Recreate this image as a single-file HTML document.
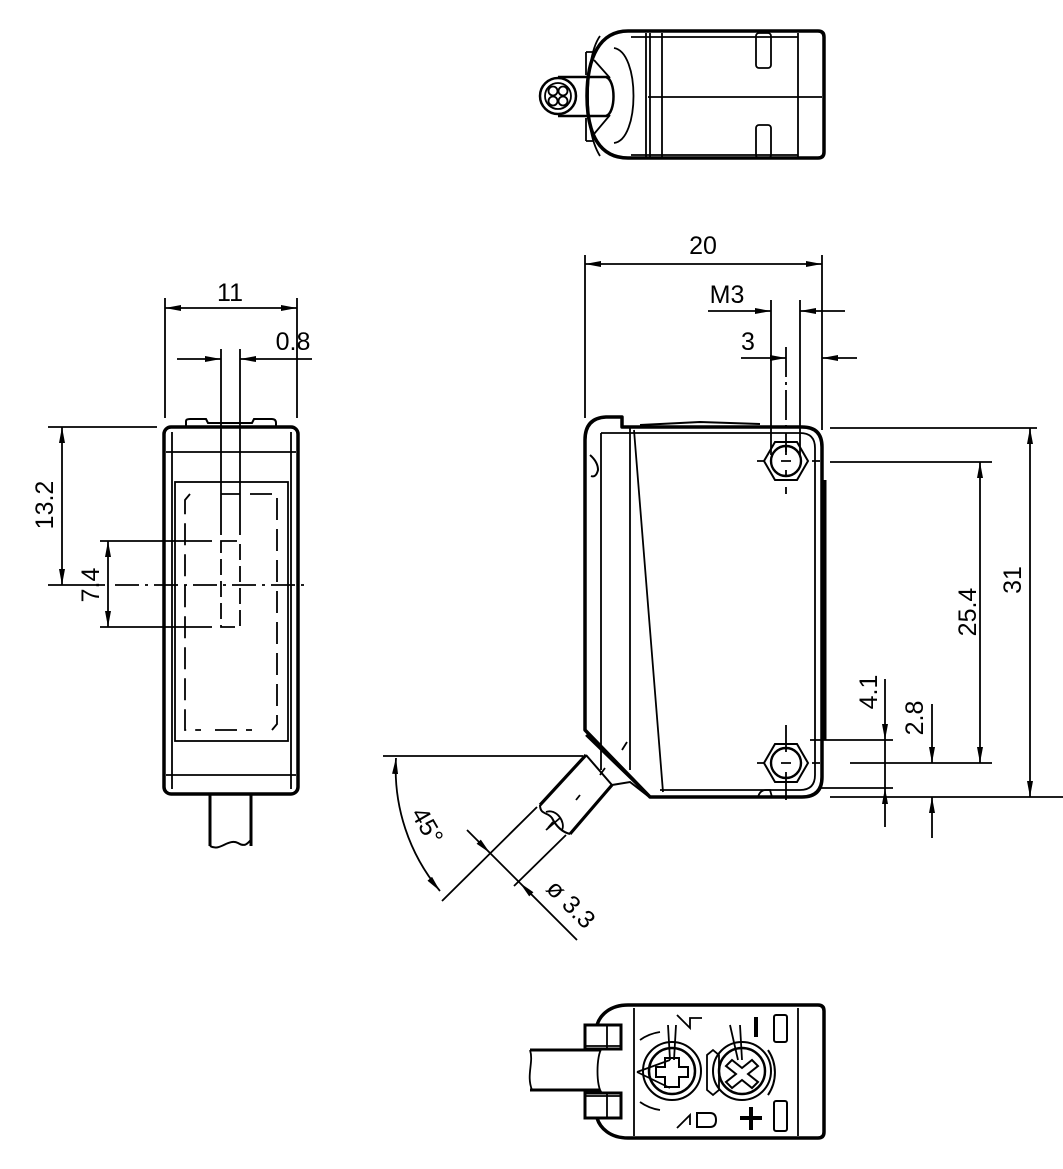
<!DOCTYPE html>
<html><head><meta charset="utf-8"><style>
html,body{margin:0;padding:0;background:#fff}
svg{display:block}
text{font-family:"Liberation Sans",Arial,sans-serif;font-size:25px;fill:#000}
</style></head><body>
<svg width="1063" height="1169" viewBox="0 0 1063 1169" xmlns="http://www.w3.org/2000/svg">
<defs>
<marker id="a" viewBox="0 0 16 6" refX="16" refY="3" markerWidth="16" markerHeight="6" markerUnits="userSpaceOnUse" orient="auto-start-reverse">
<path d="M0,0 L16,3 L0,6 Z" fill="#000"/>
</marker>
</defs>
<g fill="none" stroke="#000" stroke-width="1.8">

<!-- ===== TOP VIEW ===== -->
<path d="M628,31 L818,31 Q824,31 824,37 L824,152 Q824,158 818,158 L628,158 C600,158 587,135 587,96 C587,57 600,31 628,31 Z" stroke-width="3.5"/>
<path d="M631,37 L798,37 M631,155 L798,155 M646,33 L646,157 M650,33 L650,157 M662,33 L662,157 M798,33 L798,157 M648,97 L822,97"/>
<path d="M600,36 C590,50 588,80 588,96 C588,115 590,140 600,156" />
<path d="M586,52 L594,52 M586,141 L594,141 M586,52 L586,75 M586,118 L586,141"/>
<path d="M614,48 C640,52 640,140 614,143"/>
<path d="M594,60 L610,78 M594,134 L610,115"/>
<rect x="756" y="33" width="15" height="35" rx="3"/>
<rect x="756" y="125" width="15" height="33" rx="3"/>
<path d="M558,77 L606,77 C616,80 616,113 606,116 L558,116" stroke-width="2.5"/>
<circle cx="558" cy="96" r="18" stroke-width="2.5"/>
<circle cx="558" cy="96" r="13"/>
<circle cx="553" cy="91" r="4.5"/><circle cx="563" cy="91" r="4.5"/>
<circle cx="553" cy="101" r="4.5"/><circle cx="563" cy="101" r="4.5"/>

<!-- ===== LEFT VIEW ===== -->
<rect x="164" y="427" width="134" height="367" rx="7" stroke-width="3.5"/>
<path d="M172,432 L172,789 M291,432 L291,789 M166,452 L296,452 M166,775 L296,775"/>
<path d="M186,427 L186,421 Q186,419 190,419 L206,419 L208,423 L252,423 L254,419 L272,419 Q276,419 276,423 L276,427" stroke-width="2"/>
<rect x="175" y="482" width="113" height="259"/>
<path d="M190,494 L185,500 L185,730 L201,730 M198,494 M221,494 L240,494 M250,494 L277,494 L277,724 L272,730 M215,730 L252,730" stroke-dasharray="22,9" stroke-width="1.8"/>
<path d="M221,541 L240,541 L240,627 L221,627 Z" stroke-dasharray="16,6" stroke-width="1.8"/>
<path d="M221,349 L221,535 M240,349 L240,535"/>
<path d="M115,585 L310,585" stroke-dasharray="24,6,3,6"/>
<path d="M165,298 L165,418 M297,298 L297,418"/>
<path d="M165,308 L297,308" marker-start="url(#a)" marker-end="url(#a)"/>
<path d="M177,359 L221,359" marker-end="url(#a)"/>
<path d="M312,359 L240,359" marker-end="url(#a)"/>
<path d="M48,427 L157,427 M48,585 L105,585"/>
<path d="M62,427 L62,585" marker-start="url(#a)" marker-end="url(#a)"/>
<path d="M100,541 L212,541 M100,627 L212,627"/>
<path d="M108,541 L108,627" marker-start="url(#a)" marker-end="url(#a)"/>
<path d="M210,794 L210,846 M251,794 L251,846" stroke-width="3"/>
<path d="M210,846 C220,852 228,838 238,843 C246,848 248,842 251,840" stroke-width="2"/>

<!-- ===== SIDE VIEW ===== -->
<path d="M585,730 L585,440 Q585,418 606,417 L622,417 L622,427 L802,427 Q822,427 822,447 L822,777 Q822,797 802,797 L650,797 L585,730 Z" stroke-width="3.5" stroke-linejoin="round"/>
<path d="M601,433 L800,433 Q815,433 815,448 L815,775 Q815,790 800,790 L660,790"/>
<path d="M601,433 L601,770 M630,428 L630,770 M634,430 L663,792"/>
<path d="M825,480 L825,740" stroke-width="3"/>
<path d="M590,455 Q598,462 598,470 Q596,478 591,476" stroke-width="2"/>
<path d="M640,425 L700,422 L760,424" stroke-width="2"/>
<path d="M758,797 Q760,790 766,790 L770,790 Q772,797 772,797"/>
<path d="M586,735 L650,797" stroke-width="2.5"/>
<path d="M586,755 L540,805 M612,785 L570,834" stroke-width="3.2"/>
<path d="M586,755 L612,785" stroke-width="2"/>
<path d="M612,785 L630,782 L648,796" stroke-width="2"/>
<path d="M540,805 C540,815 548,812 552,818 C556,826 562,832 570,834" stroke-width="2"/>
<path d="M546,812 C556,808 566,822 562,830"/>
<path d="M627,742 L622,750 M605,768 L600,775 M580,795 L576,800 M553,822 L548,828 M560,818 L546,830"/>
<path d="M383,756 L583,756"/>
<path d="M396,758 A190,190 0 0 0 440,891" marker-start="url(#a)" marker-end="url(#a)"/>
<path d="M442,901 L537,807 M514,886 L566,835"/>
<path d="M467,830 L490,853" marker-end="url(#a)"/>
<path d="M490,853 L520,883"/>
<path d="M577,940 L520,883" marker-end="url(#a)"/>
<path d="M764,461 L775,442 L797,442 L808,461 L797,480 L775,480 Z" stroke-width="2"/>
<circle cx="786" cy="461" r="15" stroke-width="2.4"/>
<path d="M781,461 L791,461 M786,446 L786,452 M786,470 L786,476"/>
<path d="M757,461 L764,461 M812,461 L820,461 M786,487 L786,494"/>
<path d="M764,763 L775,744 L797,744 L808,763 L797,782 L775,782 Z" stroke-width="2"/>
<circle cx="786" cy="763" r="15" stroke-width="2.4"/>
<path d="M781,763 L791,763 M786,725 L786,752 M786,772 L786,800 M757,763 L764,763 M812,763 L820,763"/>
<path d="M585,255 L585,418 M822,255 L822,430"/>
<path d="M585,264 L822,264" marker-start="url(#a)" marker-end="url(#a)"/>
<path d="M771,300 L771,455 M800,300 L800,455"/>
<path d="M786,347 L786,455" stroke-dasharray="30,5,3,5"/>
<path d="M708,311 L771,311" marker-end="url(#a)"/>
<path d="M845,311 L800,311" marker-end="url(#a)"/>
<path d="M741,358 L786,358" marker-end="url(#a)"/>
<path d="M857,358 L822,358" marker-end="url(#a)"/>
<path d="M830,428 L1037,428 M830,797 L1067,797 M830,462 L992,462 M850,763 L992,763 M810,740 L893,740 M820,788 L893,788"/>
<path d="M1030,428 L1030,797" marker-start="url(#a)" marker-end="url(#a)"/>
<path d="M980,462 L980,763" marker-start="url(#a)" marker-end="url(#a)"/>
<path d="M885,679 L885,740" marker-end="url(#a)"/>
<path d="M885,740 L885,788"/>
<path d="M885,827 L885,788" marker-end="url(#a)"/>
<path d="M932,704 L932,763" marker-end="url(#a)"/>
<path d="M932,838 L932,797" marker-end="url(#a)"/>

<!-- ===== BOTTOM VIEW ===== -->
<path d="M628,1005 L818,1005 Q824,1005 824,1011 L824,1132 Q824,1138 818,1138 L628,1138 C610,1138 600,1128 597,1118 M597,1025 C600,1015 610,1005 628,1005" stroke-width="3.5"/>
<path d="M634,1008 L634,1136 M798,1008 L798,1136 M602,1048 C596,1055 596,1088 602,1093"/>
<path d="M530,1050 L600,1050 M530,1090 L600,1090" stroke-width="3"/>
<path d="M530,1050 C534,1062 526,1075 532,1090"/>
<rect x="585" y="1025" width="36" height="24" stroke-width="3"/>
<rect x="585" y="1093" width="36" height="25" stroke-width="3"/>
<path d="M607,1025 L607,1049 M607,1093 L607,1118 M586,1046 L620,1046 M586,1096 L620,1096"/>
<circle cx="672" cy="1071" r="29" stroke-width="2"/>
<circle cx="672" cy="1071" r="23" stroke-width="2.5"/>
<circle cx="742" cy="1071" r="29" stroke-width="2"/>
<circle cx="742" cy="1071" r="23" stroke-width="2.5"/>
<path d="M665,1058 L679,1058 L679,1067 L688,1067 L688,1077 L679,1077 L679,1087 L665,1087 L665,1077 L656,1077 L656,1067 L665,1067 Z" stroke-width="2"/>
<path d="M732,1060 L742,1068 L752,1060 L758,1066 L748,1074 L758,1082 L752,1088 L742,1080 L732,1088 L726,1082 L736,1074 L726,1066 Z" stroke-width="2"/>
<path d="M637,1072 L670,1060 M637,1072 L670,1088 M668,1025 L670,1060 M676,1025 L674,1060 M730,1025 L738,1060 M740,1025 L742,1060"/>
<path d="M707,1055 L713,1050 L719,1055 L719,1090 L713,1095 L707,1090 Z"/>
<path d="M640,1040 A45,45 0 0 1 660,1032 M640,1102 A45,45 0 0 0 660,1110"/>
<path d="M768,1050 A40,40 0 0 1 768,1095" stroke-width="2"/>
<path d="M677,1015 L690,1028 L690,1018 L702,1018 M677,1128 L690,1115 L690,1125"/>
<path d="M697,1113 L710,1113 Q716,1113 716,1120 Q716,1127 710,1127 L697,1127 Z" stroke-width="2"/>
<path d="M756,1017 L756,1037" stroke-width="4"/>
<rect x="774" y="1015" width="13" height="27" rx="2" stroke-width="2"/>
<rect x="774" y="1101" width="13" height="30" rx="2" stroke-width="2"/>
<path d="M751,1107 L751,1130 M740,1118 L762,1118" stroke-width="4"/>
</g>

<text x="230" y="301" text-anchor="middle">11</text>
<text x="293" y="350" text-anchor="middle">0.8</text>
<text transform="translate(53,505) rotate(-90)" text-anchor="middle">13.2</text>
<text transform="translate(99,585) rotate(-90)" text-anchor="middle">7.4</text>
<text x="703" y="254" text-anchor="middle">20</text>
<text x="727" y="303" text-anchor="middle">M3</text>
<text x="748" y="350" text-anchor="middle">3</text>
<text transform="translate(976,612) rotate(-90)" text-anchor="middle">25.4</text>
<text transform="translate(1021,580) rotate(-90)" text-anchor="middle">31</text>
<text transform="translate(877,692) rotate(-90)" text-anchor="middle">4.1</text>
<text transform="translate(923,718) rotate(-90)" text-anchor="middle">2.8</text>
<text transform="translate(420,830) rotate(60)" text-anchor="middle">45°</text>
<text transform="translate(565,910) rotate(45)" text-anchor="middle">ø 3.3</text>
</svg>
</body></html>
